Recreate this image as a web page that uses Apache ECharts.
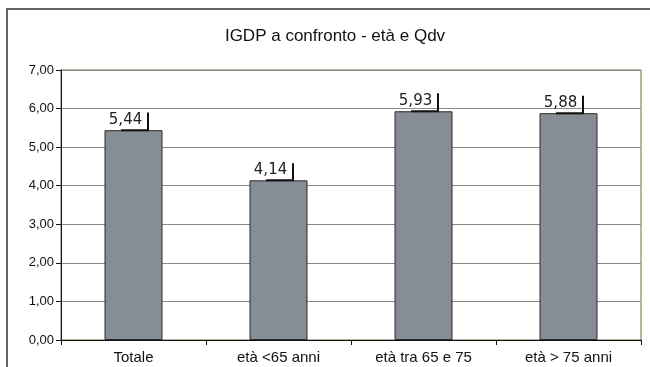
<!DOCTYPE html>
<html>
<head>
<meta charset="utf-8">
<script src="https://cdn.jsdelivr.net/npm/echarts@6/dist/echarts.min.js"></script>
<style>
  html, body { margin: 0; padding: 0; background: #fff; }
  #chart-igdp { width: 650px; height: 367px; }
</style>
</head>
<body>
<div id="chart-igdp"></div>
<script>
// dati
var categories = ["Totale", "età <65 anni", "età tra 65 e 75", "età > 75 anni"];
var values = [5.44, 4.14, 5.93, 5.88];
var errors = [0.46, 0.44, 0.47, 0.45];
var yTicks = [0, 1, 2, 3, 4, 5, 6, 7];

var chart = echarts.init(document.getElementById("chart-igdp"));

function fmt(v) {
  return v.toFixed(2).replace(".", ",");
}

chart.setOption({
  animation: false,
  backgroundColor: "#fff",
  title: {
    text: "IGDP a confronto - età e Qdv",
    left: 330,
    top: 23,
    textAlign: "center",
    textStyle: {
      fontFamily: "Liberation Sans",
      fontSize: 17,
      fontWeight: "normal",
      color: "#111",
    },
  },
  graphic: [
    {
      type: "polyline",
      shape: { points: [[7, 400], [7, 9], [700, 9]] },
      style: { stroke: "#333", lineWidth: 1.5, fill: null },
      silent: true,
    },
  ],
  grid: {
    left: 61,
    right: 9,
    top: 70,
    bottom: 27,
    show: true,
    borderColor: "#6b6e3c",
    borderWidth: 1,
  },
  xAxis: {
    type: "category",
    data: categories,
    axisLine: { lineStyle: { color: "#111", width: 1 } },
    axisTick: { show: true, length: 5, lineStyle: { color: "#111" } },
    axisLabel: {
      margin: 10,
      fontFamily: "Liberation Sans",
      fontSize: 15,
      color: "#111",
    },
  },
  yAxis: {
    type: "value",
    min: yTicks[0],
    max: yTicks[yTicks.length - 1],
    interval: 1,
    axisLine: { show: true, lineStyle: { color: "#111", width: 1 } },
    axisTick: { show: true, length: 5, lineStyle: { color: "#111" } },
    axisLabel: {
      margin: 7,
      fontFamily: "Liberation Sans Narrow, Liberation Sans",
      fontSize: 13,
      color: "#111",
      formatter: function (value) {
        return fmt(value);
      },
    },
    splitLine: { show: true, lineStyle: { color: "#8a8a8a", width: 1 } },
  },
  series: [
    {
      type: "bar",
      data: values,
      barWidth: "40%",
      itemStyle: { color: "#878d94", borderColor: "#2a2a2a", borderWidth: 1 },
      z: 2,
    },
    {
      type: "custom",
      z: 5,
      data: values.map(function (v, i) {
        return [i, v, errors[i]];
      }),
      encode: { x: 0, y: 1 },
      renderItem: function (params, api) {
        var idx = api.value(0);
        var top = api.coord([idx, api.value(1)]);
        var up = api.coord([idx, api.value(1) + api.value(2)]);
        var bw = api.size([1, 0])[0];
        var xl = top[0] - bw * 0.086;
        var xr = top[0] + bw * 0.1;
        return {
          type: "group",
          children: [
            {
              type: "polyline",
              shape: { points: [[xl, top[1]], [xr, top[1]], [xr, up[1]]] },
              style: { stroke: "#111", lineWidth: 2, fill: null },
            },
            {
              type: "text",
              style: {
                text: fmt(api.value(1)),
                x: top[0] - bw * 0.055,
                y: top[1] - 3,
                align: "center",
                verticalAlign: "bottom",
                font: "15px 'DejaVu Sans'",
                fill: "#222",
              },
            },
          ],
        };
      },
    },
  ],
});
</script>
</body>
</html>
